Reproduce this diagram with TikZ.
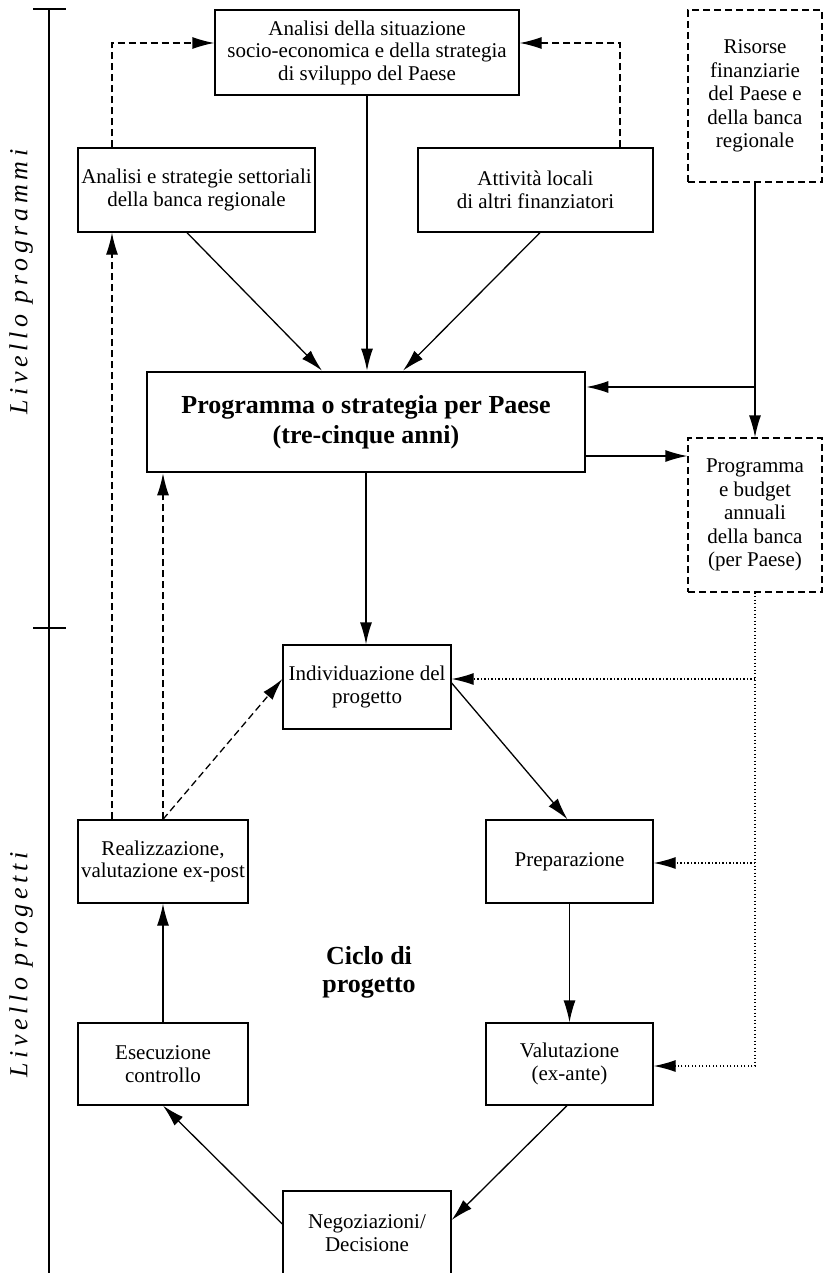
\documentclass[tikz,border=0pt]{standalone}
\usepackage{fontspec}
\setmainfont{Liberation Serif}
\newfontfamily\lblfont[LetterSpace=18]{Liberation Serif}
\usetikzlibrary{arrows.meta}
\begin{document}
\begin{tikzpicture}[x=1pt,y=-1pt,
  box/.style={draw, line width=1.3pt, inner sep=0pt, align=center,
    font=\fontsize{21}{22.5}\selectfont},
  dbox/.style={box, dash pattern=on 7pt off 4pt},
  mainbox/.style={box, line width=2.7pt, font=\bfseries\fontsize{26}{30}\selectfont},
  arr/.style={line width=1.3pt, -{Latex[length=22pt,width=12pt]}},
  darr/.style={arr, dash pattern=on 7pt off 4pt},
  dotarr/.style={arr, line width=1.2pt, dash pattern=on 1.2pt off 2.3pt},
  axis/.style={line width=1.3pt},
  lvl/.style={rotate=90, font=\lblfont\itshape\fontsize{26}{28}\selectfont},
  cyc/.style={align=center, font=\bfseries\fontsize{26}{28}\selectfont}]
\useasboundingbox (0,0) rectangle (823,1273);

% axis
\coordinate (axtop) at (49,9);
\coordinate (axmid) at (49,628);
\coordinate (axbot) at (49,1290);
\draw[axis] (axtop) -- (axbot);
\draw[axis] ([xshift=-16pt]axtop) -- ([xshift=17pt]axtop);
\draw[axis] ([xshift=-16pt]axmid) -- ([xshift=17pt]axmid);
\node[lvl] (lprog) at (21,282) {Livello programmi};
\node[lvl] (lproj) at (21,965) {Livello progetti};

% boxes
\node[box, minimum width=304pt, minimum height=85pt] (sit) at (367,52.5)
  {Analisi della situazione\\socio-economica e della strategia\\di sviluppo del Paese};
\node[box, minimum width=237pt, minimum height=84pt] (sett) at (196.5,190)
  {Analisi e strategie settoriali\\della banca regionale};
\node[box, minimum width=235pt, minimum height=84pt] (att) at (535.5,190)
  {Attività locali\\di altri finanziatori};
\node[dbox, minimum width=134pt, minimum height=172pt, font=\fontsize{21}{23.5}\selectfont] (ris) at (755,96)
  {Risorse\\finanziarie\\del Paese e\\della banca\\regionale};
\node[mainbox, minimum width=438pt, minimum height=100pt] (main) at (366,422)
  {Programma o strategia per Paese\\(tre-cinque anni)};
\node[dbox, minimum width=134pt, minimum height=154pt, font=\fontsize{21}{23.5}\selectfont] (budget) at (755,515)
  {Programma\\e budget\\annuali\\della banca\\(per Paese)};
\node[box, minimum width=168pt, minimum height=84pt] (ind) at (367,687)
  {Individuazione del\\progetto};
\node[box, minimum width=167pt, minimum height=83pt] (prep) at (569.5,861.5)
  {Preparazione};
\node[box, minimum width=167pt, minimum height=82pt] (val) at (569.5,1064)
  {Valutazione\\(ex-ante)};
\node[box, minimum width=168pt, minimum height=84pt] (neg) at (367,1233)
  {Negoziazioni/\\Decisione};
\node[box, minimum width=170pt, minimum height=82pt] (esec) at (163,1064)
  {Esecuzione\\controllo};
\node[box, minimum width=170pt, minimum height=83pt] (real) at (163,861.5)
  {Realizzazione,\\valutazione ex-post};
\node[cyc] (ciclo) at (369,972) {Ciclo di\\progetto};

% connectors, upper part
\coordinate (e1) at (112,43);
\coordinate (e2) at (620,43);
\draw[darr] (e1 |- sett.north) -- (e1) -- (e1 -| sit.west);
\draw[darr] (e2 |- att.north) -- (e2) -- (e2 -| sit.east);
\draw[arr] (sit.south) -- (sit.south |- main.north);
\draw[arr] ([xshift=-9.5pt]sett.south) -- ([xshift=-44pt]main.north);
\draw[arr] ([xshift=4.5pt]att.south) -- ([xshift=37pt]main.north);
\draw[arr] (ris.south) -- (budget.north);
\coordinate (br) at (755,387);
\draw[arr] (br) -- (br -| main.east);
\coordinate (m1) at ([yshift=-34pt]main.east);
\draw[arr] (m1) -- (m1 -| budget.west);
\draw[arr] (main.south) -- (main.south |- ind.north);

% dotted feeds
\coordinate (d1) at (755,679);
\coordinate (d2) at (755,863);
\coordinate (d3) at (755,1066);
\draw[dotarr] (budget.south) -- (d3) -- (d3 -| val.east);
\draw[dotarr] (d1) -- (d1 -| ind.east);
\draw[dotarr] (d2) -- (d2 -| prep.east);

% project cycle
\draw[arr] ([yshift=4pt]ind.east) -- ([xshift=-2pt]prep.north);
\draw[arr] (prep.south) -- (val.north);
\draw[arr] ([xshift=-2.5pt]val.south) -- ([yshift=13pt]neg.east);
\draw[arr] ([yshift=9pt]neg.west) -- (esec.south);
\draw[arr] (esec.north) -- (real.south);

% feedback
\draw[darr] (e1 |- real.north) -- (e1 |- sett.south);
\draw[darr] (real.north) -- (real.north |- main.south);
\draw[darr] (real.north) -- ([yshift=8pt]ind.west);
\end{tikzpicture}
\end{document}
